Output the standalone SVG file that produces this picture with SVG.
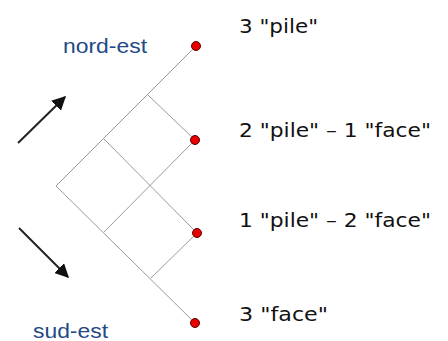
<svg xmlns="http://www.w3.org/2000/svg" width="448" height="341" viewBox="0 0 448 341">
<style>
.grid{stroke:#9a9a9a;stroke-width:1;fill:none}
.dot{fill:#e80000;stroke:#5a0000;stroke-width:1}
.lbl{font-family:"DejaVu Sans","Liberation Sans",sans-serif;font-size:20px;fill:#111}
.dir{font-family:"Liberation Sans",Arial,sans-serif;font-size:21px;fill:#1f4a86}
.arr{stroke:#222;stroke-width:2;fill:none;marker-end:url(#ah)}
</style>
<defs>
<marker id="ah" viewBox="0 0 10 10" refX="9" refY="5" markerWidth="7" markerHeight="7" orient="auto" markerUnits="strokeWidth">
<path d="M0,0 L10,5 L0,10 z" fill="#111"/>
</marker>
</defs>
<rect width="448" height="341" fill="#fff"/>
<g id="connectors">
<line class="grid" x1="56" y1="186" x2="196" y2="46"/>
<line class="grid" x1="56" y1="186" x2="195" y2="323"/>
<line class="grid" x1="104" y1="139" x2="197" y2="233"/>
<line class="grid" x1="148" y1="95" x2="195" y2="140"/>
<line class="grid" x1="104" y1="232" x2="195" y2="140"/>
<line class="grid" x1="151" y1="278" x2="197" y2="233"/>
</g>
<g id="arrows">
<line class="arr" x1="18" y1="143" x2="65" y2="97"/>
<line class="arr" x1="19" y1="228" x2="68" y2="277"/>
</g>
<g id="n1"><circle class="dot" cx="196" cy="46" r="4.5"/><text class="lbl" x="239" y="33" textLength="79" lengthAdjust="spacingAndGlyphs">3 "pile"</text></g>
<g id="n2"><circle class="dot" cx="195" cy="140" r="4.5"/><text class="lbl" x="239" y="137" textLength="192" lengthAdjust="spacingAndGlyphs">2 "pile" – 1 "face"</text></g>
<g id="n3"><circle class="dot" cx="197" cy="233" r="4.5"/><text class="lbl" x="239" y="227" textLength="192" lengthAdjust="spacingAndGlyphs">1 "pile" – 2 "face"</text></g>
<g id="n4"><circle class="dot" cx="195" cy="323" r="4.5"/><text class="lbl" x="239" y="321" textLength="89" lengthAdjust="spacingAndGlyphs">3 "face"</text></g>
<g id="nord"><text class="dir" x="63" y="53" textLength="84" lengthAdjust="spacingAndGlyphs">nord-est</text></g>
<g id="sud"><text class="dir" x="33" y="338" textLength="75" lengthAdjust="spacingAndGlyphs">sud-est</text></g>
</svg>
